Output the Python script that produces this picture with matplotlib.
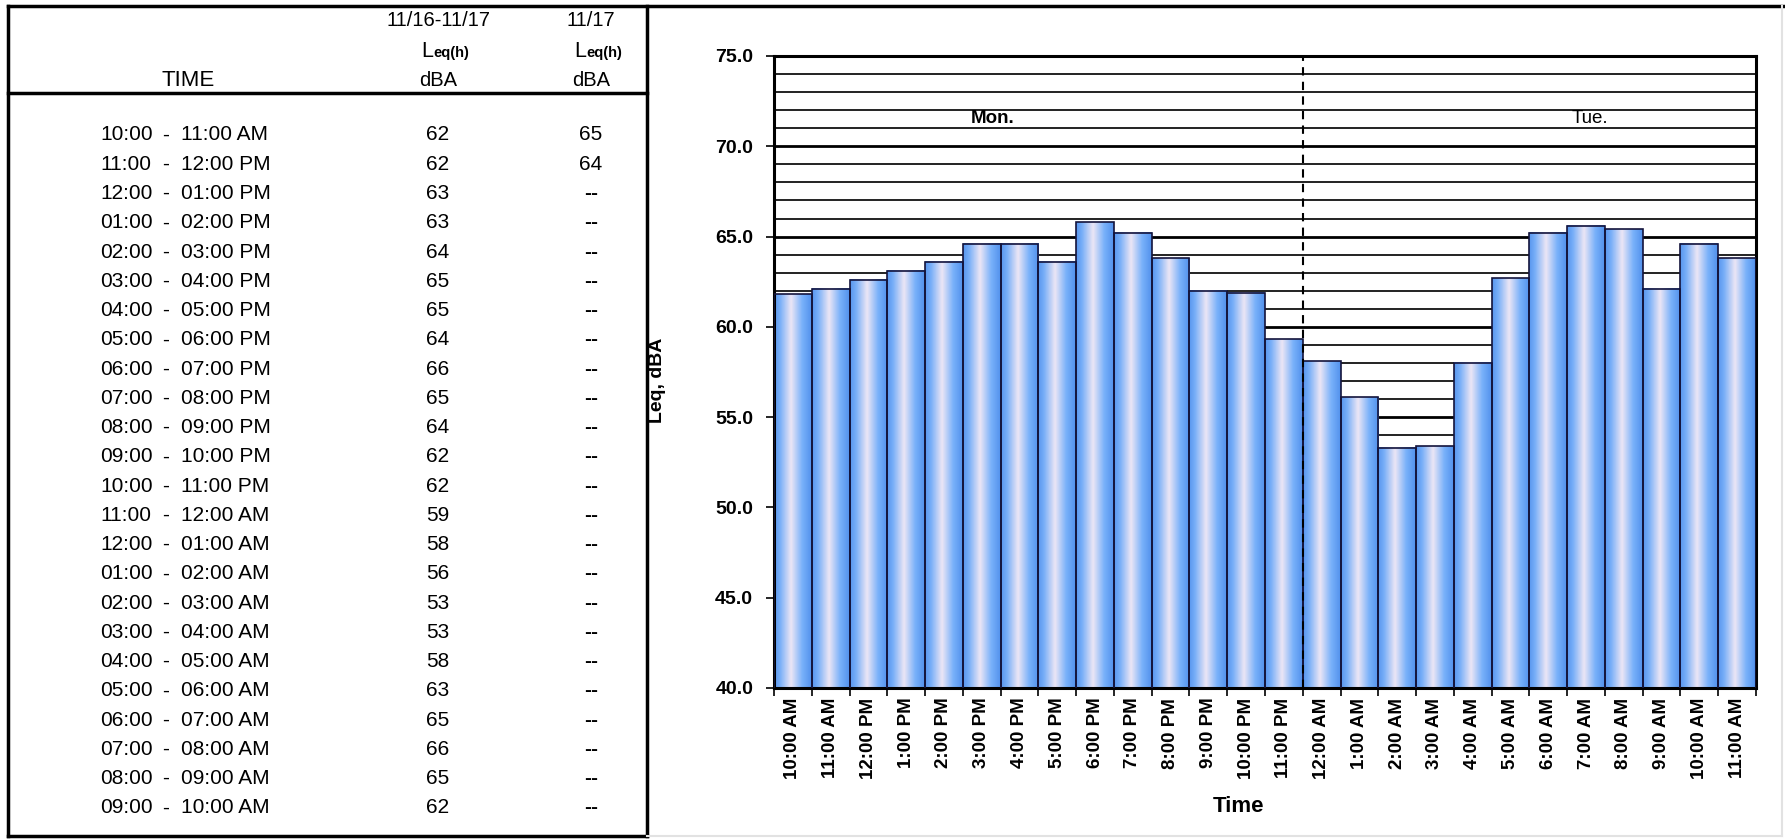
import numpy as np
import matplotlib.pyplot as plt
from matplotlib.lines import Line2D
from matplotlib.ticker import MultipleLocator, FormatStrFormatter

plt.rcParams["font.family"] = ["Liberation Sans", "DejaVu Sans"]

W, H = 1785, 839

# hourly table (11/16 10 AM through 11/17 10 AM)
start_times = ["10:00", "11:00", "12:00", "01:00", "02:00", "03:00", "04:00", "05:00",
               "06:00", "07:00", "08:00", "09:00", "10:00", "11:00", "12:00", "01:00",
               "02:00", "03:00", "04:00", "05:00", "06:00", "07:00", "08:00", "09:00"]
end_times = ["11:00 AM", "12:00 PM", "01:00 PM", "02:00 PM", "03:00 PM", "04:00 PM",
             "05:00 PM", "06:00 PM", "07:00 PM", "08:00 PM", "09:00 PM", "10:00 PM",
             "11:00 PM", "12:00 AM", "01:00 AM", "02:00 AM", "03:00 AM", "04:00 AM",
             "05:00 AM", "06:00 AM", "07:00 AM", "08:00 AM", "09:00 AM", "10:00 AM"]
leq_1116 = [62, 62, 63, 63, 64, 65, 65, 64, 66, 65, 64, 62,
            62, 59, 58, 56, 53, 53, 58, 63, 65, 66, 65, 62]
leq_1117 = [65, 64] + [None] * 22

# chart: hourly Leq, Mon 10 AM through Tue 11 AM
bar_labels = ["10:00 AM", "11:00 AM", "12:00 PM", "1:00 PM", "2:00 PM", "3:00 PM",
              "4:00 PM", "5:00 PM", "6:00 PM", "7:00 PM", "8:00 PM", "9:00 PM",
              "10:00 PM", "11:00 PM", "12:00 AM", "1:00 AM", "2:00 AM", "3:00 AM",
              "4:00 AM", "5:00 AM", "6:00 AM", "7:00 AM", "8:00 AM", "9:00 AM",
              "10:00 AM", "11:00 AM"]
leq_hourly = [61.8, 62.1, 62.6, 63.1, 63.6, 64.6, 64.6, 63.6, 65.8, 65.2, 63.8, 62.0,
              61.9, 59.3, 58.1, 56.1, 53.3, 53.4, 58.0, 62.7, 65.2, 65.6, 65.4, 62.1,
              64.6, 63.8]
day_names = ["Mon.", "Tue."]
day_x = [5.3, 21.1]
day_split = 13.5


def fx(x):
    return x / W


def fy(y):
    return 1 - y / H


fig = plt.figure(figsize=(W / 100, H / 100), dpi=100)


def frame_line(xs, ys, color="black", lw=2.5):
    fig.add_artist(Line2D([fx(v) for v in xs], [fy(v) for v in ys],
                          color=color, lw=lw, solid_capstyle="projecting"))


# outer boxes
frame_line([8, 8], [6, 836])
frame_line([8, 1783], [6, 6])
frame_line([8, 647], [93, 93])
frame_line([647, 647], [6, 836])
frame_line([8, 647], [836, 836])
frame_line([647, 1782], [836, 836], color="#e2e2e2", lw=1.5)
frame_line([1782, 1782], [6, 836], color="#e2e2e2", lw=1.5)

# table header
col2_x, col3_x = 438, 591
hfs, rfs = 14.5, 15
fig.text(fx(188), fy(80), "TIME", ha="center", va="center", fontsize=16)
fig.text(fx(col2_x), fy(21), "11/16-11/17", ha="center", va="center", fontsize=hfs)
fig.text(fx(col3_x), fy(21), "11/17", ha="center", va="center", fontsize=hfs)
for cx in (col2_x, col3_x):
    fig.text(fx(cx - 5), fy(57), "L", ha="right", va="baseline", fontsize=hfs + 1)
    fig.text(fx(cx - 5), fy(57), "eq(h)", ha="left", va="baseline",
             fontsize=10.5, fontweight="bold")
    fig.text(fx(cx), fy(80), "dBA", ha="center", va="center", fontsize=hfs)

# table rows
row0, row_step = 135, 29.26
for i in range(len(start_times)):
    y = fy(row0 + i * row_step)
    fig.text(fx(100), y, start_times[i], ha="left", va="center", fontsize=rfs)
    fig.text(fx(166), y, "-", ha="center", va="center", fontsize=rfs)
    fig.text(fx(181), y, end_times[i], ha="left", va="center", fontsize=rfs)
    fig.text(fx(col2_x), y, str(leq_1116[i]), ha="center", va="center", fontsize=rfs)
    v = leq_1117[i]
    fig.text(fx(col3_x), y, "--" if v is None else str(v),
             ha="center", va="center", fontsize=rfs,
             fontweight="bold" if v is None else "normal")

# chart
ax = fig.add_axes([fx(774), fy(688), fx(1756 - 774), (688 - 56) / H])
x = np.arange(len(leq_hourly))
bars = ax.bar(x, leq_hourly, width=1.0, fill=False, edgecolor="#14143c",
              linewidth=1.2, zorder=3)

# horizontal blue-white-blue shading inside each bar
stops = [0.0, 0.15, 0.45, 0.75, 1.0]
cols = np.array([[88, 150, 238], [118, 174, 248], [236, 230, 245],
                 [120, 177, 250], [82, 145, 236]]) / 255
t = np.linspace(0, 1, 64)
grad = np.stack([np.interp(t, stops, cols[:, k]) for k in range(3)], axis=-1)[None, :, :]
for b in bars:
    ax.imshow(grad, extent=(b.get_x(), b.get_x() + b.get_width(), 0, b.get_height()),
              aspect="auto", interpolation="bilinear", zorder=2)

ax.set_xlim(-0.5, len(leq_hourly) - 0.5)
ax.set_ylim(40, 75)

ax.set_axisbelow(True)
ax.set_yticks(np.arange(40, 76, 5))
ax.yaxis.set_minor_locator(MultipleLocator(1))
ax.yaxis.set_major_formatter(FormatStrFormatter("%.1f"))
ax.grid(axis="y", which="major", color="black", lw=2.0)
ax.grid(axis="y", which="minor", color="#111111", lw=1.3)
ax.tick_params(axis="y", which="major", direction="out", length=6, width=1.2,
               pad=9, labelsize=14)
ax.tick_params(axis="y", which="minor", length=0)
for lab in ax.get_yticklabels():
    lab.set_fontweight("bold")

ax.set_xticks(np.arange(-0.5, len(leq_hourly), 1.0))
ax.set_xticklabels([])
ax.set_xticks(x, minor=True)
ax.set_xticklabels(bar_labels, minor=True, rotation=90, fontweight="bold", fontsize=13.5)
ax.tick_params(axis="x", which="major", direction="out", length=6, width=1.2)
ax.tick_params(axis="x", which="minor", length=0, pad=7)

for sp in ax.spines.values():
    sp.set_linewidth(2.2)

ax.axvline(day_split, color="black", ls=(0, (4, 3)), lw=1.5, zorder=4)
for name, dx, wt in zip(day_names, day_x, ["bold", "normal"]):
    ax.text(dx, 71.05, name, ha="center", va="bottom", fontsize=13.5,
            fontweight=wt, zorder=5)

fig.text(fx(657), fy(380), "Leq, dBA", rotation=90, ha="center", va="center",
         fontsize=14, fontweight="bold")
fig.text(fx(1238), fy(806), "Time", ha="center", va="center",
         fontsize=16, fontweight="bold")

fig.savefig("out.png", dpi=100)
